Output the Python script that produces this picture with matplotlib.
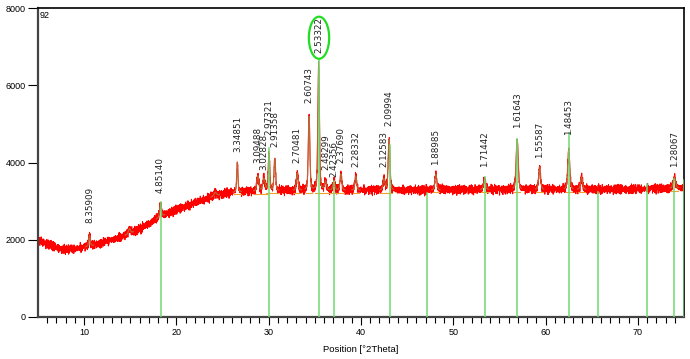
import numpy as np
import matplotlib.pyplot as plt
from matplotlib.patches import Ellipse

# --------- data ---------
# background of the scan (2theta, counts)
bg_pos = [5, 6, 7, 8, 9, 10, 11, 12, 13, 14, 15, 16, 17, 18, 19, 20, 21, 22, 23, 24,
          25, 26, 27, 28, 30, 35, 40, 45, 50, 55, 60, 65, 70, 75]
bg_cnt = [1980, 1890, 1800, 1740, 1760, 1810, 1860, 1920, 1990, 2070, 2170, 2280, 2400, 2560,
          2680, 2770, 2860, 2950, 3040, 3120, 3190, 3220, 3240, 3250, 3260, 3280, 3280, 3280,
          3290, 3300, 3300, 3300, 3310, 3340]

# observed peaks: position, total height (counts), fwhm
pk_pos = [10.58, 14.9, 18.27, 24.2, 26.60, 28.82, 29.47, 30.03, 30.66, 33.09, 34.37, 35.41,
          36.15, 37.06, 37.82, 39.43, 42.49, 43.04, 48.11, 53.40, 56.92, 59.35, 62.51,
          63.90, 73.96]
pk_top = [2120, 2290, 2950, 3230, 4000, 3650, 3580, 4200, 4100, 3730, 5200, 6500,
          3500, 3500, 3700, 3650, 3570, 4600, 3700, 3550, 4600, 3880, 4300,
          3620, 3620]
pk_fwhm = [0.18, 0.25, 0.2, 0.3, 0.16, 0.25, 0.3, 0.2, 0.2, 0.22, 0.2, 0.2,
           0.25, 0.25, 0.22, 0.22, 0.25, 0.22, 0.24, 0.28, 0.26, 0.24, 0.26,
           0.25, 0.3]

# labelled d-spacings and where the label starts (counts)
lab_d = ["8.35909", "4.85140", "3.34851", "3.09488", "3.02828", "2.97321", "2.91358",
         "2.70481", "2.60743", "2.53322", "2.48299", "2.42356", "2.37690", "2.28332",
         "2.12583", "2.09994", "1.88985", "1.71442", "1.61643", "1.55587", "1.48453",
         "1.28067"]
lab_pos = [10.58, 18.27, 26.60, 28.82, 29.47, 30.03, 30.66, 33.09, 34.37, 35.41, 36.15,
           37.06, 37.82, 39.43, 42.49, 43.04, 48.11, 53.40, 56.92, 59.35, 62.51, 73.96]
lab_y = [2435, 3212, 4274, 3989, 3807, 4714, 4403, 3989, 5543, 6838, 3807, 3626, 3989,
         3885, 3885, 4947, 3937, 3885, 4895, 4118, 4714, 3885]

# reference pattern sticks
ref_pos = [18.3, 30.08, 35.5, 37.1, 43.1, 47.2, 53.4, 56.9, 62.5, 65.7, 70.97, 73.96, 74.98]
ref_top = [2980, 4380, 6680, 3520, 4450, 3210, 3630, 4600, 4760, 3240, 3440, 3570, 3550]

# hand-typed jitter of the raw counts
ripple_a = [35, -20, 60, -45, 10, 80, -70, 25, -10, 50, -85, 40, 0, -30, 70, -55, 15, 90,
            -40, -5, 55, -75, 30, -15, 65, -60, 20, 45, -90, 10, -25, 75, -50, 5, 35, -65,
            85, -35, 15, -45, 60, -10, 40, -80, 25, 50, -20, -55, 70, -30, 0, 45, -70]
ripple_b = [20, -35, 10, 40, -25, 0, 30, -45, 15, 35, -10, -30, 25, 5, -40, 45, -15, 20,
            -5, 30, -35, 10, 40, -20, 0, -30, 35, -10, 15]

# --------- build the profile ---------
tt = np.arange(5.0, 75.0001, 0.02)
bg = np.interp(tt, bg_pos, bg_cnt)
calc = bg.copy()
near = np.zeros_like(tt, dtype=bool)
for p, h, w in zip(pk_pos, pk_top, pk_fwhm):
    amp = h - np.interp(p, bg_pos, bg_cnt)
    g = amp / (1 + ((tt - p) / (w / 2)) ** 2) * 0.35 + amp * 0.65 * np.exp(-4 * np.log(2) * ((tt - p) / w) ** 2)
    calc += g
    near |= np.abs(tt - p) < 0.45

n = len(tt)
jit = 1.15 * (np.resize(ripple_a, n) + np.resize(ripple_b, n))
obs = calc + jit
calc_show = np.where(near, calc, np.nan)

# --------- plot ---------
fig = plt.figure(figsize=(6.9, 3.59), dpi=100)
ax = fig.add_axes([0.0551, 0.117, 0.9362, 0.8607])

for p, t in zip(ref_pos, ref_top):
    ax.plot([p, p], [0, t], color="#6fd86f", lw=1.1, zorder=3)

ax.plot(tt, obs, color="#ff0000", lw=0.7, zorder=2)
ax.plot(tt, calc_show, color="#b8703a", lw=0.9, alpha=0.85, zorder=2.5)
for p in pk_pos[4:]:
    b = np.interp(p, bg_pos, bg_cnt) - 60
    ax.plot([p - 0.35, p + 0.35], [b, b], color="#f0a030", lw=0.8, zorder=2.4)

for d, p, y in zip(lab_d, lab_pos, lab_y):
    ax.text(p, y, d, rotation=90, ha="center", va="bottom", fontsize=6.3,
            family="DejaVu Sans", color="#222222", zorder=4)

ax.add_patch(Ellipse((35.45, 7230), 2.2, 1090, fill=False, edgecolor="#22dd22", lw=1.6, zorder=5))

ax.text(5.15, 7920, "92", ha="left", va="top", fontsize=6.5, family="Liberation Sans")

ax.set_xlim(5, 75)
ax.set_ylim(0, 8000)
ax.set_xticks([10, 20, 30, 40, 50, 60, 70])
ax.set_xticks(np.arange(6, 75, 1), minor=True)
ax.set_yticks([0, 2000, 4000, 6000, 8000])
ax.tick_params(axis="x", which="major", length=6, width=0.8, labelsize=6.5, pad=2)
ax.tick_params(axis="x", which="minor", length=4, width=0.8)
ax.tick_params(axis="y", which="major", length=7, width=0.8, labelsize=6.5, pad=2)
for lab in ax.get_xticklabels() + ax.get_yticklabels():
    lab.set_family("Liberation Sans")
ax.set_xlabel("Position [°2Theta]", fontsize=6.8, family="Liberation Sans", labelpad=6)

ax.spines["left"].set_linewidth(1.6)
ax.spines["left"].set_color("#444444")
ax.spines["bottom"].set_linewidth(1.6)
ax.spines["bottom"].set_color("#444444")
ax.spines["top"].set_linewidth(1.2)
ax.spines["right"].set_linewidth(1.2)

fig.savefig("out.png", dpi=100)
